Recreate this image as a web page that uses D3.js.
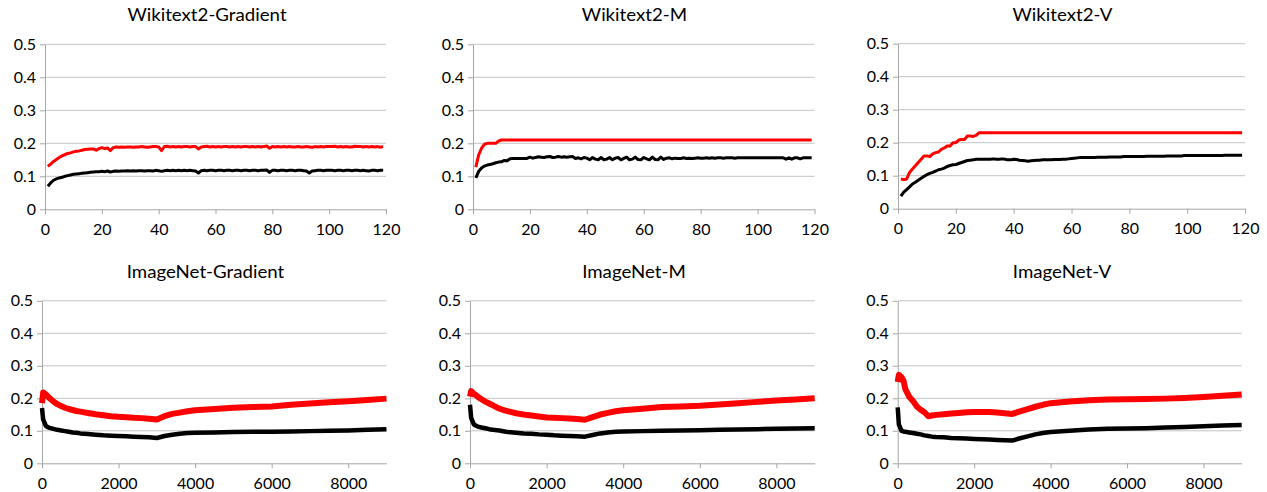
<!DOCTYPE html>
<html>
<head>
<style>
  body {
    margin: 0px;
    background-color: white;
  }
  svg {
    display: block;
    font-family: Lato, "Open Sans", sans-serif;
  }
</style>
<script src="https://cdn.jsdelivr.net/npm/d3@7"></script>
</head>
<body>
<svg width="1267" height="492"></svg>
<script>
// tick values
const yTicks = [0, 0.1, 0.2, 0.3, 0.4, 0.5];
const wikiTicks = [0, 20, 40, 60, 80, 100, 120];
const imgTicks = [0, 2000, 4000, 6000, 8000];

// Wikitext2: one value per epoch, epochs 1..119
const wikiGradRed = [
  .130,.137,.145,.151,.157,.162,.166,.169,.171,.174,
  .176,.177,.179,.181,.182,.183,.183,.179,.184,.187,
  .184,.186,.178,.187,.189,.188,.189,.188,.189,.189,
  .188,.189,.189,.190,.189,.188,.189,.190,.190,.189,
  .178,.190,.191,.189,.190,.189,.190,.189,.190,.190,
  .189,.190,.190,.183,.189,.190,.191,.189,.190,.189,
  .190,.189,.190,.190,.189,.190,.189,.190,.189,.190,
  .190,.189,.190,.189,.190,.189,.190,.192,.185,.190,
  .189,.190,.189,.190,.189,.190,.189,.189,.190,.189,
  .189,.190,.189,.188,.190,.189,.190,.189,.190,.190,
  .190,.191,.189,.190,.189,.190,.189,.189,.191,.190,
  .190,.189,.190,.189,.190,.189,.190,.188,.190];
const wikiGradBlack = [
  .070,.080,.088,.092,.095,.097,.100,.102,.104,.106,
  .107,.108,.109,.110,.111,.112,.113,.114,.114,.115,
  .114,.116,.113,.115,.116,.115,.116,.116,.117,.116,
  .117,.116,.117,.117,.116,.117,.117,.116,.118,.117,
  .115,.117,.118,.117,.118,.117,.118,.117,.118,.117,
  .118,.117,.116,.110,.117,.118,.117,.118,.118,.117,
  .118,.118,.117,.118,.118,.117,.118,.118,.117,.118,
  .118,.117,.118,.118,.117,.118,.118,.119,.112,.118,
  .118,.117,.118,.118,.117,.118,.118,.117,.118,.118,
  .117,.116,.110,.116,.117,.118,.118,.117,.118,.118,
  .118,.117,.118,.118,.117,.118,.118,.117,.118,.118,
  .117,.118,.117,.116,.118,.118,.117,.118,.118];

const wikiMRed = [
  .128,.165,.185,.197,.200,.200,.200,.200,.207,.210,
  .210,.210,.210,.210,.210,.210,.210,.210,.210,.210,
  .210,.210,.210,.210,.210,.210,.210,.210,.210,.210,
  .210,.210,.210,.210,.210,.210,.210,.210,.210,.210,
  .210,.210,.210,.210,.210,.210,.210,.210,.210,.210,
  .210,.210,.210,.210,.210,.210,.210,.210,.210,.210,
  .210,.210,.210,.210,.210,.210,.210,.210,.210,.210,
  .210,.210,.210,.210,.210,.210,.210,.210,.210,.210,
  .210,.210,.210,.210,.210,.210,.210,.210,.210,.210,
  .210,.210,.210,.210,.210,.210,.210,.210,.210,.210,
  .210,.210,.210,.210,.210,.210,.210,.210,.210,.210,
  .210,.210,.210,.210,.210,.210,.210,.210,.210];
const wikiMBlack = [
  .095,.115,.125,.131,.134,.136,.138,.141,.143,.144,
  .148,.147,.153,.154,.154,.154,.154,.154,.154,.158,
  .155,.157,.159,.158,.157,.159,.160,.157,.158,.160,
  .158,.159,.158,.159,.160,.154,.156,.153,.157,.155,
  .150,.157,.152,.150,.157,.150,.152,.157,.150,.155,
  .157,.150,.154,.158,.150,.152,.158,.151,.150,.157,
  .153,.150,.158,.151,.150,.158,.151,.155,.156,.153,
  .155,.154,.154,.156,.154,.155,.154,.155,.156,.155,
  .155,.156,.155,.156,.155,.156,.156,.155,.156,.156,
  .156,.155,.156,.156,.156,.156,.156,.156,.156,.156,
  .156,.156,.156,.156,.156,.156,.156,.156,.156,.152,
  .156,.152,.156,.156,.153,.156,.156,.156,.156];

const wikiVRed = [
  .090,.088,.090,.110,.120,.130,.140,.150,.160,.160,
  .158,.166,.170,.172,.180,.184,.190,.190,.200,.200,
  .208,.210,.210,.220,.220,.219,.222,.230,.230,.230,
  .230,.230,.230,.230,.230,.230,.230,.230,.230,.230,
  .230,.230,.230,.230,.230,.230,.230,.230,.230,.230,
  .230,.230,.230,.230,.230,.230,.230,.230,.230,.230,
  .230,.230,.230,.230,.230,.230,.230,.230,.230,.230,
  .230,.230,.230,.230,.230,.230,.230,.230,.230,.230,
  .230,.230,.230,.230,.230,.230,.230,.230,.230,.230,
  .230,.230,.230,.230,.230,.230,.230,.230,.230,.230,
  .230,.230,.230,.230,.230,.230,.230,.230,.230,.230,
  .230,.230,.230,.230,.230,.230,.230,.230,.230];
const wikiVBlack = [
  .038,.050,.058,.066,.075,.080,.086,.092,.098,.103,
  .107,.110,.114,.118,.120,.123,.128,.131,.133,.134,
  .137,.140,.143,.146,.147,.148,.150,.150,.150,.150,
  .150,.150,.151,.150,.150,.151,.150,.148,.148,.150,
  .149,.147,.146,.145,.144,.145,.146,.147,.147,.148,
  .148,.148,.148,.149,.149,.149,.150,.150,.151,.152,
  .153,.154,.155,.155,.155,.155,.155,.155,.156,.156,
  .156,.156,.157,.157,.157,.157,.157,.158,.158,.158,
  .158,.158,.158,.158,.158,.159,.159,.159,.159,.159,
  .159,.159,.160,.160,.160,.160,.160,.160,.161,.161,
  .161,.161,.161,.161,.161,.161,.161,.161,.161,.161,
  .161,.161,.162,.162,.162,.162,.162,.162,.162];

// ImageNet: values read at these iterations
const imgSteps = [0, 30, 100, 150, 200, 300, 400, 500, 600, 700, 800, 900, 1000,
  1200, 1400, 1600, 1800, 2000, 2200, 2400, 2600, 2800, 3000, 3200, 3400, 3600, 3800, 4000,
  4500, 5000, 5500, 6000, 6500, 7000, 7500, 8000, 8500, 9000];

const imgGradRed = [.185,.218,.212,.206,.200,.190,.182,.176,.171,.167,.164,.161,.159,
  .155,.151,.148,.145,.143,.142,.140,.139,.137,.135,.145,.152,.156,.160,.163,
  .167,.171,.173,.175,.180,.184,.188,.191,.195,.199];
const imgGradBlack = [.170,.135,.115,.111,.109,.106,.103,.101,.099,.097,.095,.094,.092,
  .090,.088,.086,.085,.084,.083,.082,.081,.080,.078,.084,.088,.091,.093,.094,
  .095,.096,.097,.097,.098,.099,.100,.101,.103,.105];

const imgMRed = [.205,.222,.214,.210,.205,.197,.190,.184,.178,.172,.167,.163,.160,
  .154,.150,.147,.144,.141,.140,.139,.138,.136,.134,.142,.150,.155,.160,.163,
  .168,.173,.175,.177,.181,.185,.189,.193,.196,.200];
const imgMBlack = [.180,.140,.120,.116,.113,.110,.108,.105,.103,.102,.100,.098,.096,
  .094,.092,.091,.089,.088,.086,.085,.084,.083,.082,.087,.092,.095,.097,.098,
  .099,.100,.101,.102,.103,.104,.105,.106,.107,.108];

const imgVRed = [.250,.272,.265,.255,.228,.205,.192,.175,.165,.157,.145,.147,.149,
  .151,.153,.155,.157,.158,.158,.158,.156,.154,.152,.160,.167,.174,.180,.185,
  .190,.194,.196,.197,.198,.199,.201,.204,.208,.212];
const imgVBlack = [.172,.120,.100,.098,.097,.095,.093,.091,.089,.086,.084,.082,.081,
  .080,.078,.077,.076,.075,.074,.073,.072,.071,.070,.077,.083,.089,.093,.096,
  .100,.104,.106,.107,.108,.110,.112,.114,.116,.118];

const titles = ["Wikitext2-Gradient", "Wikitext2-M", "Wikitext2-V",
  "ImageNet-Gradient", "ImageNet-M", "ImageNet-V"];

// panel layout
const panels = [
  {title: titles[0], red: wikiGradRed, black: wikiGradBlack, wiki: true,
   left: 45, right: 386, top: 44.3, bottom: 209.3, tx: 207, ty: 21},
  {title: titles[1], red: wikiMRed, black: wikiMBlack, wiki: true,
   left: 473, right: 814.5, top: 44.3, bottom: 209.3, tx: 634.5, ty: 21},
  {title: titles[2], red: wikiVRed, black: wikiVBlack, wiki: true,
   left: 898, right: 1245, top: 43.7, bottom: 208.7, tx: 1062.5, ty: 21},
  {title: titles[3], red: imgGradRed, black: imgGradBlack, wiki: false,
   left: 42, right: 386.5, top: 300.8, bottom: 463.3, tx: 205.5, ty: 278},
  {title: titles[4], red: imgMRed, black: imgMBlack, wiki: false,
   left: 470, right: 814.7, top: 300.8, bottom: 463.3, tx: 634, ty: 278},
  {title: titles[5], red: imgVRed, black: imgVBlack, wiki: false,
   left: 897.7, right: 1241.7, top: 300.8, bottom: 463.3, tx: 1062, ty: 278}
];

const svg = d3.select("svg");

panels.forEach(function(p) {
  const x = d3.scaleLinear()
      .domain(p.wiki ? [0, 120] : [0, 9000])
      .range([p.left, p.right]);
  const y = d3.scaleLinear().domain([0, 0.5]).range([p.bottom, p.top]);
  const g = svg.append("g");

  // gridlines
  g.selectAll(".grid")
    .data(yTicks.slice(1))
    .enter().append("line")
      .attr("x1", p.left).attr("x2", p.right)
      .attr("y1", d => y(d)).attr("y2", d => y(d))
      .attr("stroke", "#c3c3c3")
      .attr("stroke-width", 1);

  const yAxis = g.append("g")
      .attr("transform", "translate(" + p.left + ",0)")
      .call(d3.axisLeft(y).tickValues(yTicks).tickFormat(d => d)
        .tickSize(5).tickSizeOuter(0).tickPadding(4));

  const xAxis = g.append("g")
      .attr("transform", "translate(0," + p.bottom + ")")
      .call(d3.axisBottom(x).tickValues(p.wiki ? wikiTicks : imgTicks).tickFormat(d => d)
        .tickSize(5).tickSizeOuter(0).tickPadding(9));

  [yAxis, xAxis].forEach(function(a) {
    a.select(".domain").attr("stroke", "#a6a6a6");
    a.selectAll(".tick line").attr("stroke", "#a6a6a6");
    a.selectAll("text")
      .attr("fill", "#000")
      .style("font-size", "16px")
      .style("font-family", "Lato, 'Open Sans', sans-serif");
  });

  const line = d3.line()
      .x(function(d, i) { return x(p.wiki ? i + 1 : imgSteps[i]); })
      .y(function(d) { return y(d); });

  g.append("path")
      .datum(p.black)
      .attr("d", line)
      .attr("fill", "none")
      .attr("stroke", "#000")
      .attr("stroke-width", p.wiki ? 3 : 4.5)
      .attr("stroke-linejoin", "round");

  g.append("path")
      .datum(p.red)
      .attr("d", line)
      .attr("fill", "none")
      .attr("stroke", "#ff0000")
      .attr("stroke-width", p.wiki ? 3 : 6)
      .attr("stroke-linejoin", "round");

  g.append("text")
      .attr("transform", "translate(" + p.tx + "," + p.ty + ") scale(1.1,1)")
      .attr("text-anchor", "middle")
      .style("font-size", "17px")
      .attr("fill", "#000")
      .text(p.title);
});
</script>
</body>
</html>
